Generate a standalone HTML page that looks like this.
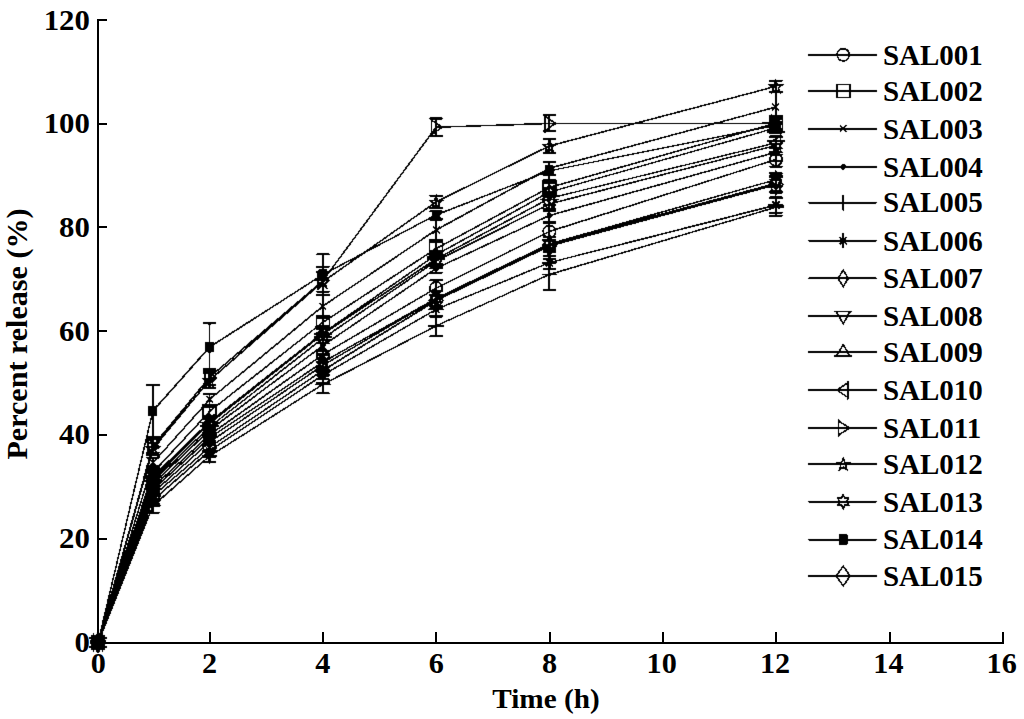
<!DOCTYPE html>
<html><head><meta charset="utf-8"><title>Percent release</title>
<style>
html,body{margin:0;padding:0;background:#fff;}
body{width:1024px;height:719px;overflow:hidden;}
svg{display:block;}
.t{font-family:"Liberation Serif",serif;font-weight:bold;font-size:28px;fill:#000;}
</style></head><body>
<svg width="1024" height="719" viewBox="0 0 1024 719">
<defs><filter id="al" x="0" y="0" width="1024" height="719" filterUnits="userSpaceOnUse" color-interpolation-filters="sRGB"><feComponentTransfer><feFuncA type="discrete" tableValues="0 1"/></feComponentTransfer><feConvolveMatrix order="3" kernelMatrix="0 1 0 1 8 1 0 1 0" divisor="12" edgeMode="none" preserveAlpha="false"/></filter></defs>
<rect width="1024" height="719" fill="#fff"/>
<g id="axes" stroke="#000" stroke-width="2" fill="none" shape-rendering="crispEdges">
<path d="M98 19.4L98 643.9"/>
<path d="M97 642.9L1003.9 642.9"/>
<path d="M98 539.0L107.4 539.0"/>
<path d="M98 435.0L107.4 435.0"/>
<path d="M98 331.2L107.4 331.2"/>
<path d="M98 227.2L107.4 227.2"/>
<path d="M98 123.7L107.4 123.7"/>
<path d="M98 20.4L107.4 20.4"/>
<path d="M209.5 632L209.5 643.9"/>
<path d="M322.9 632L322.9 643.9"/>
<path d="M436.2 632L436.2 643.9"/>
<path d="M549.6 632L549.6 643.9"/>
<path d="M662.9 632L662.9 643.9"/>
<path d="M776.2 632L776.2 643.9"/>
<path d="M889.6 632L889.6 643.9"/>
<path d="M1002.9 632L1002.9 643.9"/>
</g>
<g filter="url(#al)">
<polyline points="98.00,642.70 152.89,487.15 209.53,434.78 322.81,354.67 436.09,288.05 549.37,231.53 775.93,159.46" fill="none" stroke="#000" stroke-width="1.5"/>
<polyline points="98.00,642.70 152.89,472.63 209.53,411.45 322.81,322.27 436.09,248.64 549.37,187.46 775.93,123.16" fill="none" stroke="#000" stroke-width="1.5"/>
<polyline points="98.00,642.70 152.89,462.78 209.53,399.52 322.81,306.19 436.09,229.97 549.37,168.27 775.93,107.09" fill="none" stroke="#000" stroke-width="1.5"/>
<polyline points="98.00,642.70 152.89,484.04 209.53,430.12 322.81,345.60 436.09,268.34 549.37,215.46 775.93,152.20" fill="none" stroke="#000" stroke-width="1.5"/>
<polyline points="98.00,642.70 152.89,505.82 209.53,456.04 322.81,384.49 436.09,325.90 549.37,274.57 775.93,207.16" fill="none" stroke="#000" stroke-width="1.5"/>
<polyline points="98.00,642.70 152.89,500.11 209.53,450.86 322.81,375.15 436.09,309.30 549.37,262.64 775.93,205.09" fill="none" stroke="#000" stroke-width="1.5"/>
<polyline points="98.00,642.70 152.89,489.74 209.53,437.89 322.81,362.19 436.09,298.42 549.37,243.97 775.93,179.68" fill="none" stroke="#000" stroke-width="1.5"/>
<polyline points="98.00,642.70 152.89,481.45 209.53,427.00 322.81,338.34 436.09,261.08 549.37,204.05 775.93,145.46" fill="none" stroke="#000" stroke-width="1.5"/>
<polyline points="98.00,642.70 152.89,476.78 209.53,421.82 322.81,333.16 436.09,254.86 549.37,192.12 775.93,127.83" fill="none" stroke="#000" stroke-width="1.5"/>
<polyline points="98.00,642.70 152.89,478.85 209.53,423.37 322.81,334.19 436.09,259.01 549.37,198.35 775.93,142.87" fill="none" stroke="#000" stroke-width="1.5"/>
<polyline points="98.00,642.70 152.89,446.19 209.53,377.23 322.81,280.79 436.09,127.31 549.37,123.42 775.93,123.16" fill="none" stroke="#000" stroke-width="1.5"/>
<polyline points="98.00,642.70 152.89,448.78 209.53,380.34 322.81,281.82 436.09,201.98 549.37,145.98 775.93,86.35" fill="none" stroke="#000" stroke-width="1.5"/>
<polyline points="98.00,642.70 152.89,492.85 209.53,442.04 322.81,365.30 436.09,298.93 549.37,244.49 775.93,183.31" fill="none" stroke="#000" stroke-width="1.5"/>
<polyline points="98.00,642.70 152.89,410.93 209.53,347.16 322.81,274.57 436.09,214.94 549.37,170.87 775.93,125.24" fill="none" stroke="#000" stroke-width="1.5"/>
<polyline points="98.00,642.70 152.89,495.96 209.53,447.23 322.81,370.49 436.09,300.49 549.37,246.05 775.93,184.86" fill="none" stroke="#000" stroke-width="1.5"/>
<path d="M98.00 642.70L98.00 642.70M91.30 642.70L104.70 642.70M91.30 642.70L104.70 642.70M152.89 482.59L152.89 491.71M146.19 482.59L159.59 482.59M146.19 491.71L159.59 491.71M209.53 428.09L209.53 441.47M202.83 428.09L216.23 428.09M202.83 441.47L216.23 441.47M322.81 350.78L322.81 358.56M316.11 350.78L329.51 350.78M316.11 358.56L329.51 358.56M436.09 280.27L436.09 295.82M429.39 280.27L442.79 280.27M429.39 295.82L442.79 295.82M549.37 223.13L549.37 239.93M542.67 223.13L556.07 223.13M542.67 239.93L556.07 239.93M775.93 152.25L775.93 166.67M769.23 152.25L782.63 152.25M769.23 166.67L782.63 166.67" fill="none" stroke="#000" stroke-width="1.8"/>
<path d="M98.00 642.70L98.00 642.70M91.30 642.70L104.70 642.70M91.30 642.70L104.70 642.70M152.89 468.12L152.89 477.14M146.19 468.12L159.59 468.12M146.19 477.14L159.59 477.14M209.53 407.09L209.53 415.80M202.83 407.09L216.23 407.09M202.83 415.80L216.23 415.80M322.81 316.72L322.81 327.81M316.11 316.72L329.51 316.72M316.11 327.81L329.51 327.81M436.09 239.93L436.09 257.35M429.39 239.93L442.79 239.93M429.39 257.35L442.79 257.35M549.37 182.69L549.37 192.23M542.67 182.69L556.07 182.69M542.67 192.23L556.07 192.23M775.93 115.90L775.93 130.42M769.23 115.90L782.63 115.90M769.23 130.42L782.63 130.42" fill="none" stroke="#000" stroke-width="1.8"/>
<path d="M98.00 642.70L98.00 642.70M91.30 642.70L104.70 642.70M91.30 642.70L104.70 642.70M152.89 457.60L152.89 467.97M146.19 457.60L159.59 457.60M146.19 467.97L159.59 467.97M209.53 393.82L209.53 405.23M202.83 393.82L216.23 393.82M202.83 405.23L216.23 405.23M322.81 294.79L322.81 317.60M316.11 294.79L329.51 294.79M316.11 317.60L329.51 317.60M436.09 219.60L436.09 240.34M429.39 219.60L442.79 219.60M429.39 240.34L442.79 240.34M549.37 161.53L549.37 175.01M542.67 161.53L556.07 161.53M542.67 175.01L556.07 175.01M775.93 92.05L775.93 122.13M769.23 92.05L782.63 92.05M769.23 122.13L782.63 122.13" fill="none" stroke="#000" stroke-width="1.8"/>
<path d="M98.00 642.70L98.00 642.70M91.30 642.70L104.70 642.70M91.30 642.70L104.70 642.70M152.89 475.85L152.89 492.23M146.19 475.85L159.59 475.85M146.19 492.23L159.59 492.23M209.53 424.67L209.53 435.56M202.83 424.67L216.23 424.67M202.83 435.56L216.23 435.56M322.81 335.85L322.81 355.35M316.11 335.85L329.51 335.85M316.11 355.35L329.51 355.35M436.09 263.99L436.09 272.70M429.39 263.99L442.79 263.99M429.39 272.70L442.79 272.70M549.37 209.23L549.37 221.68M542.67 209.23L556.07 209.23M542.67 221.68L556.07 221.68M775.93 143.85L775.93 160.55M769.23 143.85L782.63 143.85M769.23 160.55L782.63 160.55" fill="none" stroke="#000" stroke-width="1.8"/>
<path d="M98.00 642.70L98.00 642.70M91.30 642.70L104.70 642.70M91.30 642.70L104.70 642.70M152.89 499.08L152.89 512.56M146.19 499.08L159.59 499.08M146.19 512.56L159.59 512.56M209.53 449.82L209.53 462.26M202.83 449.82L216.23 449.82M202.83 462.26L216.23 462.26M322.81 375.67L322.81 393.30M316.11 375.67L329.51 375.67M316.11 393.30L329.51 393.30M436.09 315.53L436.09 336.27M429.39 315.53L442.79 315.53M429.39 336.27L442.79 336.27M549.37 259.01L549.37 290.12M542.67 259.01L556.07 259.01M542.67 290.12L556.07 290.12M775.93 198.35L775.93 215.97M769.23 198.35L782.63 198.35M769.23 215.97L782.63 215.97" fill="none" stroke="#000" stroke-width="1.8"/>
<path d="M98.00 642.70L98.00 642.70M91.30 642.70L104.70 642.70M91.30 642.70L104.70 642.70M152.89 494.93L152.89 505.30M146.19 494.93L159.59 494.93M146.19 505.30L159.59 505.30M209.53 444.63L209.53 457.08M202.83 444.63L216.23 444.63M202.83 457.08L216.23 457.08M322.81 367.38L322.81 382.93M316.11 367.38L329.51 367.38M316.11 382.93L329.51 382.93M436.09 302.05L436.09 316.56M429.39 302.05L442.79 302.05M429.39 316.56L442.79 316.56M549.37 256.42L549.37 268.86M542.67 256.42L556.07 256.42M542.67 268.86L556.07 268.86M775.93 197.31L775.93 212.86M769.23 197.31L782.63 197.31M769.23 212.86L782.63 212.86" fill="none" stroke="#000" stroke-width="1.8"/>
<path d="M98.00 642.70L98.00 642.70M91.30 642.70L104.70 642.70M91.30 642.70L104.70 642.70M152.89 480.67L152.89 498.82M146.19 480.67L159.59 480.67M146.19 498.82L159.59 498.82M209.53 432.29L209.53 443.49M202.83 432.29L216.23 432.29M202.83 443.49L216.23 443.49M322.81 354.26L322.81 370.12M316.11 354.26L329.51 354.26M316.11 370.12L329.51 370.12M436.09 291.11L436.09 305.73M429.39 291.11L442.79 291.11M429.39 305.73L442.79 305.73M549.37 236.71L549.37 251.23M542.67 236.71L556.07 236.71M542.67 251.23L556.07 251.23M775.93 173.20L775.93 186.16M769.23 173.20L782.63 173.20M769.23 186.16L782.63 186.16" fill="none" stroke="#000" stroke-width="1.8"/>
<path d="M98.00 642.70L98.00 642.70M91.30 642.70L104.70 642.70M91.30 642.70L104.70 642.70M152.89 472.89L152.89 490.00M146.19 472.89L159.59 472.89M146.19 490.00L159.59 490.00M209.53 419.02L209.53 434.99M202.83 419.02L216.23 419.02M202.83 434.99L216.23 434.99M322.81 333.21L322.81 343.47M316.11 333.21L329.51 333.21M316.11 343.47L329.51 343.47M436.09 253.88L436.09 268.29M429.39 253.88L442.79 253.88M429.39 268.29L442.79 268.29M549.37 197.15L549.37 210.95M542.67 197.15L556.07 197.15M542.67 210.95L556.07 210.95M775.93 136.38L775.93 154.53M769.23 136.38L782.63 136.38M769.23 154.53L782.63 154.53" fill="none" stroke="#000" stroke-width="1.8"/>
<path d="M98.00 642.70L98.00 642.70M91.30 642.70L104.70 642.70M91.30 642.70L104.70 642.70M152.89 469.16L152.89 484.40M146.19 469.16L159.59 469.16M146.19 484.40L159.59 484.40M209.53 415.86L209.53 427.78M202.83 415.86L216.23 415.86M202.83 427.78L216.23 427.78M322.81 326.10L322.81 340.21M316.11 326.10L329.51 326.10M316.11 340.21L329.51 340.21M436.09 250.82L436.09 258.91M429.39 250.82L442.79 250.82M429.39 258.91L442.79 258.91M549.37 188.13L549.37 196.12M542.67 188.13L556.07 188.13M542.67 196.12L556.07 196.12M775.93 122.90L775.93 132.76M769.23 122.90L782.63 122.90M769.23 132.76L782.63 132.76" fill="none" stroke="#000" stroke-width="1.8"/>
<path d="M98.00 642.70L98.00 642.70M91.30 642.70L104.70 642.70M91.30 642.70L104.70 642.70M152.89 470.97L152.89 486.74M146.19 470.97L159.59 470.97M146.19 486.74L159.59 486.74M209.53 417.10L209.53 429.65M202.83 417.10L216.23 417.10M202.83 429.65L216.23 429.65M322.81 328.59L322.81 339.79M316.11 328.59L329.51 328.59M316.11 339.79L329.51 339.79M436.09 251.75L436.09 266.27M429.39 251.75L442.79 251.75M429.39 266.27L442.79 266.27M549.37 191.92L549.37 204.77M542.67 191.92L556.07 191.92M542.67 204.77L556.07 204.77M775.93 137.37L775.93 148.36M769.23 137.37L782.63 137.37M769.23 148.36L782.63 148.36" fill="none" stroke="#000" stroke-width="1.8"/>
<path d="M98.00 642.70L98.00 642.70M91.30 642.70L104.70 642.70M91.30 642.70L104.70 642.70M152.89 439.45L152.89 452.93M146.19 439.45L159.59 439.45M146.19 452.93L159.59 452.93M209.53 369.45L209.53 385.01M202.83 369.45L216.23 369.45M202.83 385.01L216.23 385.01M322.81 266.79L322.81 294.79M316.11 266.79L329.51 266.79M316.11 294.79L329.51 294.79M436.09 118.50L436.09 136.13M429.39 118.50L442.79 118.50M429.39 136.13L442.79 136.13M549.37 115.44L549.37 131.41M542.67 115.44L556.07 115.44M542.67 131.41L556.07 131.41M775.93 116.42L775.93 129.90M769.23 116.42L782.63 116.42M769.23 129.90L782.63 129.90" fill="none" stroke="#000" stroke-width="1.8"/>
<path d="M98.00 642.70L98.00 642.70M91.30 642.70L104.70 642.70M91.30 642.70L104.70 642.70M152.89 442.56L152.89 455.00M146.19 442.56L159.59 442.56M146.19 455.00L159.59 455.00M209.53 373.08L209.53 387.60M202.83 373.08L216.23 373.08M202.83 387.60L216.23 387.60M322.81 271.97L322.81 291.68M316.11 271.97L329.51 271.97M316.11 291.68L329.51 291.68M436.09 195.75L436.09 208.20M429.39 195.75L442.79 195.75M429.39 208.20L442.79 208.20M549.37 139.24L549.37 152.72M542.67 139.24L556.07 139.24M542.67 152.72L556.07 152.72M775.93 80.85L775.93 91.85M769.23 80.85L782.63 80.85M769.23 91.85L782.63 91.85" fill="none" stroke="#000" stroke-width="1.8"/>
<path d="M98.00 642.70L98.00 642.70M91.30 642.70L104.70 642.70M91.30 642.70L104.70 642.70M152.89 483.99L152.89 501.72M146.19 483.99L159.59 483.99M146.19 501.72L159.59 501.72M209.53 432.55L209.53 451.53M202.83 432.55L216.23 432.55M202.83 451.53L216.23 451.53M322.81 358.72L322.81 371.89M316.11 358.72L329.51 358.72M316.11 371.89L329.51 371.89M436.09 291.16L436.09 306.71M429.39 291.16L442.79 291.16M429.39 306.71L442.79 306.71M549.37 240.50L549.37 248.48M542.67 240.50L556.07 240.50M542.67 248.48L556.07 248.48M775.93 175.32L775.93 191.29M769.23 175.32L782.63 175.32M769.23 191.29L782.63 191.29" fill="none" stroke="#000" stroke-width="1.8"/>
<path d="M98.00 642.70L98.00 642.70M91.30 642.70L104.70 642.70M91.30 642.70L104.70 642.70M152.89 385.01L152.89 436.86M146.19 385.01L159.59 385.01M146.19 436.86L159.59 436.86M209.53 323.30L209.53 371.01M202.83 323.30L216.23 323.30M202.83 371.01L216.23 371.01M322.81 254.34L322.81 294.79M316.11 254.34L329.51 254.34M316.11 294.79L329.51 294.79M436.09 211.31L436.09 218.57M429.39 211.31L442.79 211.31M429.39 218.57L442.79 218.57M549.37 162.05L549.37 179.68M542.67 162.05L556.07 162.05M542.67 179.68L556.07 179.68M775.93 119.02L775.93 131.46M769.23 119.02L782.63 119.02M769.23 131.46L782.63 131.46" fill="none" stroke="#000" stroke-width="1.8"/>
<path d="M98.00 642.70L98.00 642.70M91.30 642.70L104.70 642.70M91.30 642.70L104.70 642.70M152.89 488.29L152.89 503.64M146.19 488.29L159.59 488.29M146.19 503.64L159.59 503.64M209.53 437.43L209.53 457.03M202.83 437.43L216.23 437.43M202.83 457.03L216.23 457.03M322.81 361.72L322.81 379.25M316.11 361.72L329.51 361.72M316.11 379.25L329.51 379.25M436.09 295.10L436.09 305.88M429.39 295.10L442.79 295.10M429.39 305.88L442.79 305.88M549.37 240.03L549.37 252.06M542.67 240.03L556.07 240.03M542.67 252.06L556.07 252.06M775.93 177.09L775.93 192.64M769.23 177.09L782.63 177.09M769.23 192.64L782.63 192.64" fill="none" stroke="#000" stroke-width="1.8"/>
<circle cx="98.0" cy="642.7" r="6.2" fill="none" stroke="#000" stroke-width="1.6"/>
<circle cx="152.89" cy="487.15" r="6.2" fill="none" stroke="#000" stroke-width="1.6"/>
<circle cx="209.53" cy="434.78" r="6.2" fill="none" stroke="#000" stroke-width="1.6"/>
<circle cx="322.81" cy="354.67" r="6.2" fill="none" stroke="#000" stroke-width="1.6"/>
<circle cx="436.09" cy="288.05" r="6.2" fill="none" stroke="#000" stroke-width="1.6"/>
<circle cx="549.37" cy="231.53" r="6.2" fill="none" stroke="#000" stroke-width="1.6"/>
<circle cx="775.93" cy="159.46" r="6.2" fill="none" stroke="#000" stroke-width="1.6"/>
<rect x="91.5" y="636.2" width="13" height="13" fill="none" stroke="#000" stroke-width="1.6"/>
<rect x="146.39" y="466.13" width="13" height="13" fill="none" stroke="#000" stroke-width="1.6"/>
<rect x="203.03" y="404.95" width="13" height="13" fill="none" stroke="#000" stroke-width="1.6"/>
<rect x="316.31" y="315.77" width="13" height="13" fill="none" stroke="#000" stroke-width="1.6"/>
<rect x="429.59" y="242.14" width="13" height="13" fill="none" stroke="#000" stroke-width="1.6"/>
<rect x="542.87" y="180.96" width="13" height="13" fill="none" stroke="#000" stroke-width="1.6"/>
<rect x="769.43" y="116.66" width="13" height="13" fill="none" stroke="#000" stroke-width="1.6"/>
<path d="M94.5 639.2L101.5 646.2M94.5 646.2L101.5 639.2" fill="none" stroke="#000" stroke-width="1.35"/>
<path d="M149.39 459.28L156.39 466.28M149.39 466.28L156.39 459.28" fill="none" stroke="#000" stroke-width="1.35"/>
<path d="M206.03 396.02L213.03 403.02M206.03 403.02L213.03 396.02" fill="none" stroke="#000" stroke-width="1.35"/>
<path d="M319.31 302.69L326.31 309.69M319.31 309.69L326.31 302.69" fill="none" stroke="#000" stroke-width="1.35"/>
<path d="M432.59 226.47L439.59 233.47M432.59 233.47L439.59 226.47" fill="none" stroke="#000" stroke-width="1.35"/>
<path d="M545.87 164.77L552.87 171.77M545.87 171.77L552.87 164.77" fill="none" stroke="#000" stroke-width="1.35"/>
<path d="M772.43 103.59L779.43 110.59M772.43 110.59L779.43 103.59" fill="none" stroke="#000" stroke-width="1.35"/>
<circle cx="98.0" cy="642.7" r="2.8" fill="#000"/>
<circle cx="152.89" cy="484.04" r="2.8" fill="#000"/>
<circle cx="209.53" cy="430.12" r="2.8" fill="#000"/>
<circle cx="322.81" cy="345.6" r="2.8" fill="#000"/>
<circle cx="436.09" cy="268.34" r="2.8" fill="#000"/>
<circle cx="549.37" cy="215.46" r="2.8" fill="#000"/>
<circle cx="775.93" cy="152.2" r="2.8" fill="#000"/>
<path d="M98.0 634.9000000000001L98.0 650.5M90.2 642.7L105.8 642.7" fill="none" stroke="#000" stroke-width="1.6"/>
<path d="M152.89 498.02L152.89 513.62M145.08999999999997 505.82L160.69 505.82" fill="none" stroke="#000" stroke-width="1.6"/>
<path d="M209.53 448.24L209.53 463.84000000000003M201.73 456.04L217.33 456.04" fill="none" stroke="#000" stroke-width="1.6"/>
<path d="M322.81 376.69L322.81 392.29M315.01 384.49L330.61 384.49" fill="none" stroke="#000" stroke-width="1.6"/>
<path d="M436.09 318.09999999999997L436.09 333.7M428.28999999999996 325.9L443.89 325.9" fill="none" stroke="#000" stroke-width="1.6"/>
<path d="M549.37 266.77L549.37 282.37M541.57 274.57L557.17 274.57" fill="none" stroke="#000" stroke-width="1.6"/>
<path d="M775.93 199.35999999999999L775.93 214.96M768.13 207.16L783.7299999999999 207.16" fill="none" stroke="#000" stroke-width="1.6"/>
<path d="M98.0 635.1L98.0 650.3000000000001M90.4 642.7L105.6 642.7M94.3 639.0L101.7 646.4000000000001M94.3 646.4000000000001L101.7 639.0" fill="none" stroke="#000" stroke-width="1.6"/><circle cx="98.0" cy="642.7" r="2.7" fill="#000"/>
<path d="M152.89 492.51L152.89 507.71000000000004M145.29 500.11L160.48999999999998 500.11M149.19 496.41L156.58999999999997 503.81M149.19 503.81L156.58999999999997 496.41" fill="none" stroke="#000" stroke-width="1.6"/><circle cx="152.89" cy="500.11" r="2.7" fill="#000"/>
<path d="M209.53 443.26L209.53 458.46000000000004M201.93 450.86L217.13 450.86M205.83 447.16L213.23 454.56M205.83 454.56L213.23 447.16" fill="none" stroke="#000" stroke-width="1.6"/><circle cx="209.53" cy="450.86" r="2.7" fill="#000"/>
<path d="M322.81 367.54999999999995L322.81 382.75M315.21 375.15L330.41 375.15M319.11 371.45L326.51 378.84999999999997M319.11 378.84999999999997L326.51 371.45" fill="none" stroke="#000" stroke-width="1.6"/><circle cx="322.81" cy="375.15" r="2.7" fill="#000"/>
<path d="M436.09 301.7L436.09 316.90000000000003M428.48999999999995 309.3L443.69 309.3M432.39 305.6L439.78999999999996 313.0M432.39 313.0L439.78999999999996 305.6" fill="none" stroke="#000" stroke-width="1.6"/><circle cx="436.09" cy="309.3" r="2.7" fill="#000"/>
<path d="M549.37 255.04L549.37 270.24M541.77 262.64L556.97 262.64M545.67 258.94L553.07 266.34M545.67 266.34L553.07 258.94" fill="none" stroke="#000" stroke-width="1.6"/><circle cx="549.37" cy="262.64" r="2.7" fill="#000"/>
<path d="M775.93 197.49L775.93 212.69M768.3299999999999 205.09L783.53 205.09M772.2299999999999 201.39000000000001L779.63 208.79M772.2299999999999 208.79L779.63 201.39000000000001" fill="none" stroke="#000" stroke-width="1.6"/><circle cx="775.93" cy="205.09" r="2.7" fill="#000"/>
<path d="M98.0 634.3000000000001L103.0 642.7L98.0 651.1L93.0 642.7Z" fill="none" stroke="#000" stroke-width="1.6"/>
<path d="M152.89 481.34000000000003L157.89 489.74L152.89 498.14L147.89 489.74Z" fill="none" stroke="#000" stroke-width="1.6"/>
<path d="M209.53 429.49L214.53 437.89L209.53 446.28999999999996L204.53 437.89Z" fill="none" stroke="#000" stroke-width="1.6"/>
<path d="M322.81 353.79L327.81 362.19L322.81 370.59L317.81 362.19Z" fill="none" stroke="#000" stroke-width="1.6"/>
<path d="M436.09 290.02000000000004L441.09 298.42L436.09 306.82L431.09 298.42Z" fill="none" stroke="#000" stroke-width="1.6"/>
<path d="M549.37 235.57L554.37 243.97L549.37 252.37L544.37 243.97Z" fill="none" stroke="#000" stroke-width="1.6"/>
<path d="M775.93 171.28L780.93 179.68L775.93 188.08L770.93 179.68Z" fill="none" stroke="#000" stroke-width="1.6"/>
<path d="M88.8 638.2L107.2 638.2M91.1 638.2L98.0 650.5L104.9 638.2" fill="none" stroke="#000" stroke-width="1.6"/>
<path d="M143.69 476.95L162.08999999999997 476.95M145.98999999999998 476.95L152.89 489.25L159.79 476.95" fill="none" stroke="#000" stroke-width="1.6"/>
<path d="M200.33 422.5L218.73 422.5M202.63 422.5L209.53 434.8L216.43 422.5" fill="none" stroke="#000" stroke-width="1.6"/>
<path d="M313.61 333.84L332.01 333.84M315.91 333.84L322.81 346.14L329.71 333.84" fill="none" stroke="#000" stroke-width="1.6"/>
<path d="M426.89 256.58L445.28999999999996 256.58M429.19 256.58L436.09 268.88L442.98999999999995 256.58" fill="none" stroke="#000" stroke-width="1.6"/>
<path d="M540.17 199.55L558.57 199.55M542.47 199.55L549.37 211.85000000000002L556.27 199.55" fill="none" stroke="#000" stroke-width="1.6"/>
<path d="M766.7299999999999 140.96L785.13 140.96M769.03 140.96L775.93 153.26000000000002L782.8299999999999 140.96" fill="none" stroke="#000" stroke-width="1.6"/>
<path d="M88.8 646.9000000000001L107.2 646.9000000000001M91.1 646.9000000000001L98.0 635.1L104.9 646.9000000000001" fill="none" stroke="#000" stroke-width="1.6"/>
<path d="M143.69 480.97999999999996L162.08999999999997 480.97999999999996M145.98999999999998 480.97999999999996L152.89 469.17999999999995L159.79 480.97999999999996" fill="none" stroke="#000" stroke-width="1.6"/>
<path d="M200.33 426.02L218.73 426.02M202.63 426.02L209.53 414.21999999999997L216.43 426.02" fill="none" stroke="#000" stroke-width="1.6"/>
<path d="M313.61 337.36L332.01 337.36M315.91 337.36L322.81 325.56L329.71 337.36" fill="none" stroke="#000" stroke-width="1.6"/>
<path d="M426.89 259.06L445.28999999999996 259.06M429.19 259.06L436.09 247.26000000000002L442.98999999999995 259.06" fill="none" stroke="#000" stroke-width="1.6"/>
<path d="M540.17 196.32L558.57 196.32M542.47 196.32L549.37 184.52L556.27 196.32" fill="none" stroke="#000" stroke-width="1.6"/>
<path d="M766.7299999999999 132.03L785.13 132.03M769.03 132.03L775.93 120.23L782.8299999999999 132.03" fill="none" stroke="#000" stroke-width="1.6"/>
<path d="M102.6 633.4000000000001L102.6 652.0M102.6 635.5L91.8 642.7L102.6 649.9000000000001" fill="none" stroke="#000" stroke-width="1.6"/>
<path d="M157.48999999999998 469.55L157.48999999999998 488.15000000000003M157.48999999999998 471.65000000000003L146.69 478.85L157.48999999999998 486.05" fill="none" stroke="#000" stroke-width="1.6"/>
<path d="M214.13 414.07L214.13 432.67M214.13 416.17L203.33 423.37L214.13 430.57" fill="none" stroke="#000" stroke-width="1.6"/>
<path d="M327.41 324.89L327.41 343.49M327.41 326.99L316.61 334.19L327.41 341.39" fill="none" stroke="#000" stroke-width="1.6"/>
<path d="M440.69 249.70999999999998L440.69 268.31M440.69 251.81L429.89 259.01L440.69 266.21" fill="none" stroke="#000" stroke-width="1.6"/>
<path d="M553.97 189.04999999999998L553.97 207.65M553.97 191.15L543.17 198.35L553.97 205.54999999999998" fill="none" stroke="#000" stroke-width="1.6"/>
<path d="M780.53 133.57L780.53 152.17000000000002M780.53 135.67000000000002L769.7299999999999 142.87L780.53 150.07" fill="none" stroke="#000" stroke-width="1.6"/>
<path d="M93.4 633.4000000000001L93.4 652.0M93.4 635.5L104.2 642.7L93.4 649.9000000000001" fill="none" stroke="#000" stroke-width="1.6"/>
<path d="M148.29 436.89L148.29 455.49M148.29 438.99L159.08999999999997 446.19L148.29 453.39" fill="none" stroke="#000" stroke-width="1.6"/>
<path d="M204.93 367.93L204.93 386.53000000000003M204.93 370.03000000000003L215.73 377.23L204.93 384.43" fill="none" stroke="#000" stroke-width="1.6"/>
<path d="M318.21 271.49L318.21 290.09000000000003M318.21 273.59000000000003L329.01 280.79L318.21 287.99" fill="none" stroke="#000" stroke-width="1.6"/>
<path d="M431.48999999999995 118.01L431.48999999999995 136.61M431.48999999999995 120.11L442.28999999999996 127.31L431.48999999999995 134.51" fill="none" stroke="#000" stroke-width="1.6"/>
<path d="M544.77 114.12L544.77 132.72M544.77 116.22L555.57 123.42L544.77 130.62" fill="none" stroke="#000" stroke-width="1.6"/>
<path d="M771.3299999999999 113.86L771.3299999999999 132.46M771.3299999999999 115.96L782.13 123.16L771.3299999999999 130.35999999999999" fill="none" stroke="#000" stroke-width="1.6"/>
<path d="M98.00 636.80L99.53 641.20L104.18 641.29L100.47 644.10L101.82 648.56L98.00 645.90L94.18 648.56L95.53 644.10L91.82 641.29L96.47 641.20Z" fill="none" stroke="#000" stroke-width="1.6"/>
<path d="M152.89 442.88L154.42 447.28L159.07 447.37L155.36 450.18L156.71 454.64L152.89 451.98L149.07 454.64L150.42 450.18L146.71 447.37L151.36 447.28Z" fill="none" stroke="#000" stroke-width="1.6"/>
<path d="M209.53 374.44L211.06 378.84L215.71 378.93L212.00 381.74L213.35 386.20L209.53 383.54L205.71 386.20L207.06 381.74L203.35 378.93L208.00 378.84Z" fill="none" stroke="#000" stroke-width="1.6"/>
<path d="M322.81 275.92L324.34 280.32L328.99 280.41L325.28 283.22L326.63 287.68L322.81 285.02L318.99 287.68L320.34 283.22L316.63 280.41L321.28 280.32Z" fill="none" stroke="#000" stroke-width="1.6"/>
<path d="M436.09 196.08L437.62 200.48L442.27 200.57L438.56 203.38L439.91 207.84L436.09 205.18L432.27 207.84L433.62 203.38L429.91 200.57L434.56 200.48Z" fill="none" stroke="#000" stroke-width="1.6"/>
<path d="M549.37 140.08L550.90 144.48L555.55 144.57L551.84 147.38L553.19 151.84L549.37 149.18L545.55 151.84L546.90 147.38L543.19 144.57L547.84 144.48Z" fill="none" stroke="#000" stroke-width="1.6"/>
<path d="M775.93 80.45L777.46 84.85L782.11 84.94L778.40 87.75L779.75 92.21L775.93 89.55L772.11 92.21L773.46 87.75L769.75 84.94L774.40 84.85Z" fill="none" stroke="#000" stroke-width="1.6"/>
<path d="M98.00 635.80L99.80 639.24L103.38 639.25L101.60 642.70L103.38 646.15L99.80 646.16L98.00 649.60L96.20 646.16L92.62 646.15L94.40 642.70L92.62 639.25L96.20 639.24Z" fill="none" stroke="#000" stroke-width="1.6"/>
<path d="M152.89 485.95L154.69 489.39L158.27 489.40L156.49 492.85L158.27 496.30L154.69 496.31L152.89 499.75L151.09 496.31L147.51 496.30L149.29 492.85L147.51 489.40L151.09 489.39Z" fill="none" stroke="#000" stroke-width="1.6"/>
<path d="M209.53 435.14L211.33 438.58L214.91 438.59L213.13 442.04L214.91 445.49L211.33 445.50L209.53 448.94L207.73 445.50L204.15 445.49L205.93 442.04L204.15 438.59L207.73 438.58Z" fill="none" stroke="#000" stroke-width="1.6"/>
<path d="M322.81 358.40L324.61 361.84L328.19 361.85L326.41 365.30L328.19 368.75L324.61 368.76L322.81 372.20L321.01 368.76L317.43 368.75L319.21 365.30L317.43 361.85L321.01 361.84Z" fill="none" stroke="#000" stroke-width="1.6"/>
<path d="M436.09 292.03L437.89 295.47L441.47 295.48L439.69 298.93L441.47 302.38L437.89 302.39L436.09 305.83L434.29 302.39L430.71 302.38L432.49 298.93L430.71 295.48L434.29 295.47Z" fill="none" stroke="#000" stroke-width="1.6"/>
<path d="M549.37 237.59L551.17 241.03L554.75 241.04L552.97 244.49L554.75 247.94L551.17 247.95L549.37 251.39L547.57 247.95L543.99 247.94L545.77 244.49L543.99 241.04L547.57 241.03Z" fill="none" stroke="#000" stroke-width="1.6"/>
<path d="M775.93 176.41L777.73 179.85L781.31 179.86L779.53 183.31L781.31 186.76L777.73 186.77L775.93 190.21L774.13 186.77L770.55 186.76L772.33 183.31L770.55 179.86L774.13 179.85Z" fill="none" stroke="#000" stroke-width="1.6"/>
<rect x="93.6" y="637.5" width="8.8" height="10.4" fill="#000"/>
<rect x="148.48999999999998" y="405.73" width="8.8" height="10.4" fill="#000"/>
<rect x="205.13" y="341.96000000000004" width="8.8" height="10.4" fill="#000"/>
<rect x="318.41" y="269.37" width="8.8" height="10.4" fill="#000"/>
<rect x="431.69" y="209.74" width="8.8" height="10.4" fill="#000"/>
<rect x="544.97" y="165.67000000000002" width="8.8" height="10.4" fill="#000"/>
<rect x="771.53" y="120.03999999999999" width="8.8" height="10.4" fill="#000"/>
<path d="M98.0 632.8000000000001L105.0 642.7L98.0 652.6L91.0 642.7Z" fill="none" stroke="#000" stroke-width="1.6"/>
<path d="M152.89 486.06L159.89 495.96L152.89 505.85999999999996L145.89 495.96Z" fill="none" stroke="#000" stroke-width="1.6"/>
<path d="M209.53 437.33000000000004L216.53 447.23L209.53 457.13L202.53 447.23Z" fill="none" stroke="#000" stroke-width="1.6"/>
<path d="M322.81 360.59000000000003L329.81 370.49L322.81 380.39L315.81 370.49Z" fill="none" stroke="#000" stroke-width="1.6"/>
<path d="M436.09 290.59000000000003L443.09 300.49L436.09 310.39L429.09 300.49Z" fill="none" stroke="#000" stroke-width="1.6"/>
<path d="M549.37 236.15L556.37 246.05L549.37 255.95000000000002L542.37 246.05Z" fill="none" stroke="#000" stroke-width="1.6"/>
<path d="M775.93 174.96L782.93 184.86L775.93 194.76000000000002L768.93 184.86Z" fill="none" stroke="#000" stroke-width="1.6"/>
<path d="M808.2 54.8L876.8 54.8" stroke="#000" stroke-width="1.8" fill="none"/>
<circle cx="843.2" cy="54.8" r="6.2" fill="none" stroke="#000" stroke-width="1.6"/>
<path d="M808.2 90.9L876.8 90.9" stroke="#000" stroke-width="1.8" fill="none"/>
<rect x="836.7" y="84.4" width="13" height="13" fill="none" stroke="#000" stroke-width="1.6"/>
<path d="M808.2 128.8L876.8 128.8" stroke="#000" stroke-width="1.8" fill="none"/>
<path d="M839.7 125.30000000000001L846.7 132.3M839.7 132.3L846.7 125.30000000000001" fill="none" stroke="#000" stroke-width="1.35"/>
<path d="M808.2 166.8L876.8 166.8" stroke="#000" stroke-width="1.8" fill="none"/>
<circle cx="843.2" cy="166.8" r="2.8" fill="#000"/>
<path d="M808.2 202.6L876.8 202.6" stroke="#000" stroke-width="1.8" fill="none"/>
<path d="M843.2 194.79999999999998L843.2 210.4M835.4000000000001 202.6L851.0 202.6" fill="none" stroke="#000" stroke-width="1.6"/>
<path d="M808.2 240.7L876.8 240.7" stroke="#000" stroke-width="1.8" fill="none"/>
<path d="M843.2 233.1L843.2 248.29999999999998M835.6 240.7L850.8000000000001 240.7M839.5 237.0L846.9000000000001 244.39999999999998M839.5 244.39999999999998L846.9000000000001 237.0" fill="none" stroke="#000" stroke-width="1.6"/><circle cx="843.2" cy="240.7" r="2.7" fill="#000"/>
<path d="M808.2 278.4L876.8 278.4" stroke="#000" stroke-width="1.8" fill="none"/>
<path d="M843.2 270.0L848.2 278.4L843.2 286.79999999999995L838.2 278.4Z" fill="none" stroke="#000" stroke-width="1.6"/>
<path d="M808.2 316L876.8 316" stroke="#000" stroke-width="1.8" fill="none"/>
<path d="M834.0 311.5L852.4000000000001 311.5M836.3000000000001 311.5L843.2 323.8L850.1 311.5" fill="none" stroke="#000" stroke-width="1.6"/>
<path d="M808.2 352.2L876.8 352.2" stroke="#000" stroke-width="1.8" fill="none"/>
<path d="M834.0 356.4L852.4000000000001 356.4M836.3000000000001 356.4L843.2 344.59999999999997L850.1 356.4" fill="none" stroke="#000" stroke-width="1.6"/>
<path d="M808.2 390.1L876.8 390.1" stroke="#000" stroke-width="1.8" fill="none"/>
<path d="M847.8000000000001 380.8L847.8000000000001 399.40000000000003M847.8000000000001 382.90000000000003L837.0 390.1L847.8000000000001 397.3" fill="none" stroke="#000" stroke-width="1.6"/>
<path d="M808.2 428L876.8 428" stroke="#000" stroke-width="1.8" fill="none"/>
<path d="M838.6 418.7L838.6 437.3M838.6 420.8L849.4000000000001 428L838.6 435.2" fill="none" stroke="#000" stroke-width="1.6"/>
<path d="M808.2 464L876.8 464" stroke="#000" stroke-width="1.8" fill="none"/>
<path d="M843.20 458.10L844.73 462.50L849.38 462.59L845.67 465.40L847.02 469.86L843.20 467.20L839.38 469.86L840.73 465.40L837.02 462.59L841.67 462.50Z" fill="none" stroke="#000" stroke-width="1.6"/>
<path d="M808.2 501.7L876.8 501.7" stroke="#000" stroke-width="1.8" fill="none"/>
<path d="M843.20 494.80L845.00 498.24L848.58 498.25L846.80 501.70L848.58 505.15L845.00 505.16L843.20 508.60L841.40 505.16L837.82 505.15L839.60 501.70L837.82 498.25L841.40 498.24Z" fill="none" stroke="#000" stroke-width="1.6"/>
<path d="M808.2 539.6L876.8 539.6" stroke="#000" stroke-width="1.8" fill="none"/>
<rect x="838.8000000000001" y="534.4" width="8.8" height="10.4" fill="#000"/>
<path d="M808.2 576L876.8 576" stroke="#000" stroke-width="1.8" fill="none"/>
<path d="M843.2 566.1L850.2 576L843.2 585.9L836.2 576Z" fill="none" stroke="#000" stroke-width="1.6"/>
</g>
<text class="t" transform="translate(882.9 64.6) scale(1.035 1.06)">SAL001</text>
<text class="t" transform="translate(882.9 100.7) scale(1.035 1.06)">SAL002</text>
<text class="t" transform="translate(882.9 138.60000000000002) scale(1.035 1.06)">SAL003</text>
<text class="t" transform="translate(882.9 176.60000000000002) scale(1.035 1.06)">SAL004</text>
<text class="t" transform="translate(882.9 212.4) scale(1.035 1.06)">SAL005</text>
<text class="t" transform="translate(882.9 250.5) scale(1.035 1.06)">SAL006</text>
<text class="t" transform="translate(882.9 288.2) scale(1.035 1.06)">SAL007</text>
<text class="t" transform="translate(882.9 325.8) scale(1.035 1.06)">SAL008</text>
<text class="t" transform="translate(882.9 362.0) scale(1.035 1.06)">SAL009</text>
<text class="t" transform="translate(882.9 399.90000000000003) scale(1.035 1.06)">SAL010</text>
<text class="t" transform="translate(882.9 437.8) scale(1.035 1.06)">SAL011</text>
<text class="t" transform="translate(882.9 473.8) scale(1.035 1.06)">SAL012</text>
<text class="t" transform="translate(882.9 511.5) scale(1.035 1.06)">SAL013</text>
<text class="t" transform="translate(882.9 549.4) scale(1.035 1.06)">SAL014</text>
<text class="t" transform="translate(882.9 585.8) scale(1.035 1.06)">SAL015</text>
<text class="t" text-anchor="end" transform="translate(89.9 29.799999999999997) scale(1.10 1.05)">120</text>
<text class="t" text-anchor="end" transform="translate(89.9 133.1) scale(1.10 1.05)">100</text>
<text class="t" text-anchor="end" transform="translate(89.9 236.6) scale(1.10 1.05)">80</text>
<text class="t" text-anchor="end" transform="translate(89.9 340.59999999999997) scale(1.10 1.05)">60</text>
<text class="t" text-anchor="end" transform="translate(89.9 444.4) scale(1.10 1.05)">40</text>
<text class="t" text-anchor="end" transform="translate(89.9 548.4) scale(1.10 1.05)">20</text>
<text class="t" text-anchor="end" transform="translate(89.9 652.3) scale(1.10 1.05)">0</text>
<text class="t" text-anchor="middle" transform="translate(98.3 673.1) scale(1.08 1.05)">0</text>
<text class="t" text-anchor="middle" transform="translate(209.5 673.1) scale(1.08 1.05)">2</text>
<text class="t" text-anchor="middle" transform="translate(322.9 673.1) scale(1.08 1.05)">4</text>
<text class="t" text-anchor="middle" transform="translate(436.2 673.1) scale(1.08 1.05)">6</text>
<text class="t" text-anchor="middle" transform="translate(549.6 673.1) scale(1.08 1.05)">8</text>
<text class="t" text-anchor="middle" transform="translate(661.7 673.1) scale(1.08 1.05)">10</text>
<text class="t" text-anchor="middle" transform="translate(775.0 673.1) scale(1.08 1.05)">12</text>
<text class="t" text-anchor="middle" transform="translate(888.4 673.1) scale(1.08 1.05)">14</text>
<text class="t" text-anchor="middle" transform="translate(1001.7 673.1) scale(1.08 1.05)">16</text>
<text class="t" text-anchor="middle" transform="translate(546 707.5) scale(1.045 1)">Time (h)</text>
<text class="t" text-anchor="middle" transform="translate(27.0 334) rotate(-90) scale(1.075 1.045)">Percent release (%)</text>
</svg>
</body></html>
